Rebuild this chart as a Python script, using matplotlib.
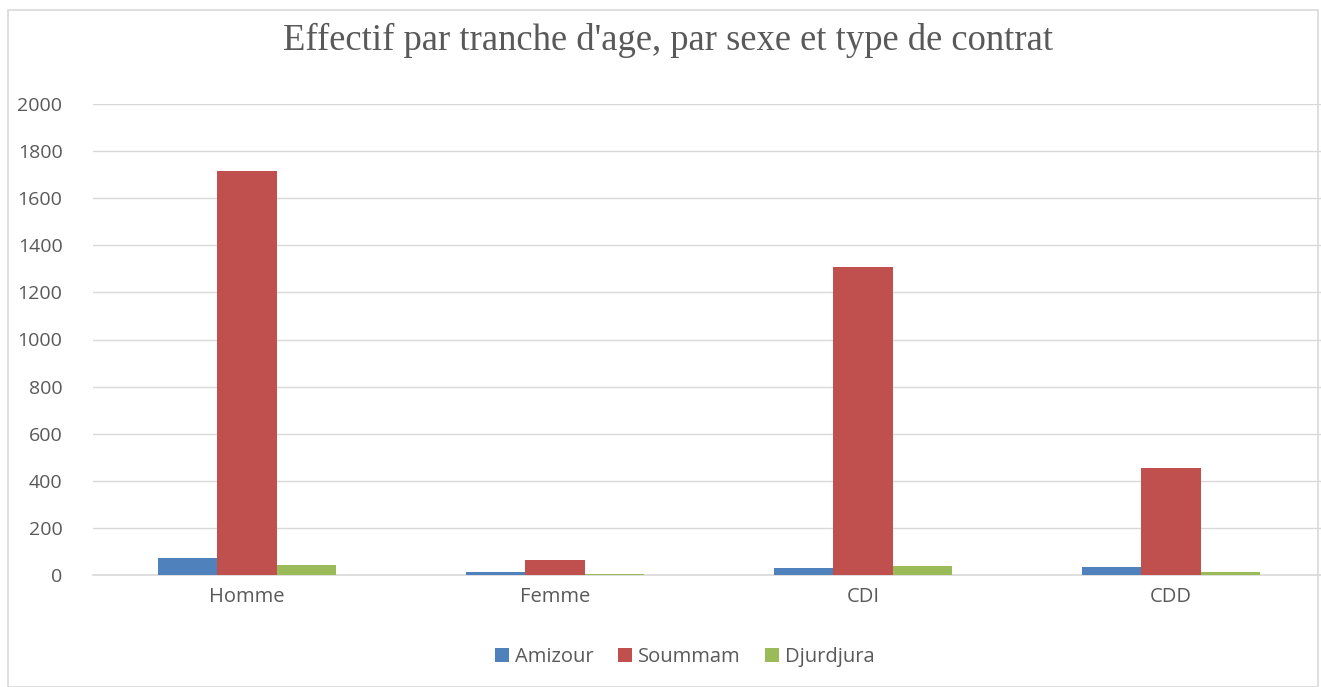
import numpy as np
import matplotlib.pyplot as plt
from matplotlib.patches import Rectangle

categories = ['Homme', 'Femme', 'CDI', 'CDD']
amizour = [72, 11, 30, 36]
soummam = [1715, 64, 1308, 455]
djurdjura = [43, 3, 40, 11]
series = ['Amizour', 'Soummam', 'Djurdjura']
colors = ['#4F81BD', '#C0504D', '#9BBB59']

fig = plt.figure(figsize=(13.21, 6.87), dpi=100)
W, H = 1321, 687
ax = fig.add_axes([93 / W, (H - 575) / H, (1325 - 93) / W, (575 - 104) / H])

x = np.arange(len(categories))
bw = 0.193
for i, (vals, name, col) in enumerate(zip([amizour, soummam, djurdjura], series, colors)):
    ax.bar(x + (i - 1) * bw, vals, bw, color=col, label=name, zorder=3)

ax.set_xlim(-0.5, 3.5)
ax.set_ylim(0, 2000)
ax.set_yticks(range(0, 2001, 200))
ax.set_xticks(x)
ax.set_xticklabels(categories)
ax.grid(axis='y', color='#D9D9D9', linewidth=1, zorder=0)
for s in ['top', 'right', 'left']:
    ax.spines[s].set_visible(False)
ax.spines['bottom'].set_color('#D9D9D9')
ax.spines['bottom'].set_linewidth(1.2)
ax.tick_params(axis='both', length=0, labelcolor='#595959')
ax.tick_params(axis='x', labelsize=14.5, pad=9)
ax.tick_params(axis='y', labelsize=14, pad=22)
for lbl in ax.get_xticklabels() + ax.get_yticklabels():
    lbl.set_fontfamily('Open Sans')

fig.text(668 / W, 1 - 40 / H, "Effectif par tranche d'age, par sexe et type de contrat",
         ha='center', va='center', fontsize=26.4, color='#595959', fontfamily='Liberation Serif')

leg = fig.legend(loc='center', bbox_to_anchor=(685 / W, 1 - 657 / H), ncol=3, frameon=False,
                 prop={'family': 'Open Sans', 'size': 14.5}, handlelength=0.7, handleheight=0.7,
                 handletextpad=0.3, columnspacing=1.2)
for t in leg.get_texts():
    t.set_color('#595959')

fig.patches.append(Rectangle((8 / W, 0), (1318 - 8) / W, 1 - 10 / H, transform=fig.transFigure,
                             fill=False, edgecolor='#D9D9D9', linewidth=1.2))

fig.savefig('out.png', dpi=100)
